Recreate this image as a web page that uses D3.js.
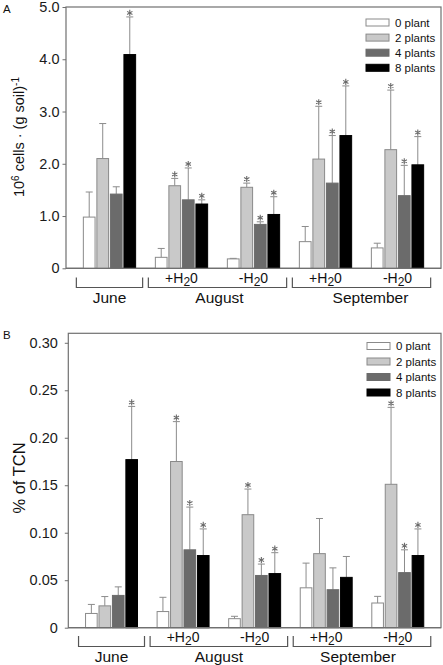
<!DOCTYPE html>
<html><head><meta charset="utf-8">
<script src="https://cdn.jsdelivr.net/npm/d3@7"></script>
<style>
html,body{margin:0;padding:0;background:#fff;}
svg{display:block;font-family:"Liberation Sans",Arial,sans-serif;}
</style></head>
<body>
<svg id="chart" width="443" height="665"></svg>
<script>
// ---------- data ----------
const groups = ["June", "Aug +H2O", "Aug -H2O", "Sep +H2O", "Sep -H2O"];
const subLabels = ["", "+H", "-H", "+H", "-H"];
const months = ["June", "August", "September"];
const monthGroups = [["June"], ["Aug +H2O", "Aug -H2O"], ["Sep +H2O", "Sep -H2O"]];
const series = ["0 plant", "2 plants", "4 plants", "8 plants"];

// Panel A: 10^6 cells per g soil
const cells0 = [0.98, 0.21, 0.18, 0.51, 0.39];
const cells2 = [2.10, 1.58, 1.55, 2.09, 2.27];
const cells4 = [1.42, 1.31, 0.84, 1.63, 1.39];
const cells8 = [4.09, 1.23, 1.03, 2.54, 1.98];
const cellsErr0 = [0.48, 0.17, 0.01, 0.29, 0.09];
const cellsErr2 = [0.67, 0.14, 0.08, 1.01, 1.14];
const cellsErr4 = [0.14, 0.61, 0.05, 0.91, 0.58];
const cellsErr8 = [0.72, 0.08, 0.34, 0.95, 0.54];
const cellsSig0 = [0, 0, 0, 0, 0];
const cellsSig2 = [0, 1, 1, 1, 1];
const cellsSig4 = [0, 1, 1, 1, 1];
const cellsSig8 = [1, 1, 1, 1, 1];
const ticksA = [0, 1, 2, 3, 4, 5];
const tickLabelsA = ["0", "1.0", "2.0", "3.0", "4.0", "5.0"];

// Panel B: % of TCN
const tcn0 = [0.015, 0.017, 0.0095, 0.042, 0.026];
const tcn2 = [0.023, 0.175, 0.119, 0.078, 0.151];
const tcn4 = [0.034, 0.082, 0.055, 0.040, 0.058];
const tcn8 = [0.177, 0.076, 0.057, 0.053, 0.076];
const tcnErr0 = [0.0095, 0.015, 0.0025, 0.026, 0.007];
const tcnErr2 = [0.0098, 0.042, 0.027, 0.037, 0.081];
const tcnErr4 = [0.009, 0.045, 0.012, 0.023, 0.024];
const tcnErr8 = [0.056, 0.028, 0.022, 0.022, 0.028];
const tcnSig0 = [0, 0, 0, 0, 0];
const tcnSig2 = [0, 1, 1, 0, 1];
const tcnSig4 = [0, 1, 1, 0, 1];
const tcnSig8 = [1, 1, 1, 0, 1];
const ticksB = [0, 0.05, 0.10, 0.15, 0.20, 0.25, 0.30];
const tickLabelsB = ["0", "0.05", "0.10", "0.15", "0.20", "0.25", "0.30"];

// ---------- styles ----------
const fills = ["#ffffff", "#c9c9c9", "#6b6b6b", "#000000"];
const strokes = ["#8a8a8a", "#8a8a8a", "#6b6b6b", "#000000"];
const frameColor = "#707070";
const errColor = "#8c8c8c";

const svg = d3.select("#chart");
const starPath = d3.symbol(d3.symbolAsterisk, 26)();

function panel(cfg) {
  const g = svg.append("g");
  const x = d3.scaleBand().domain(groups).range([cfg.left, cfg.right])
    .paddingInner(0.26).paddingOuter(0.234);
  const xs = d3.scaleBand().domain(series).range([0, x.bandwidth()]).paddingInner(0.06);
  const y = d3.scaleLinear().domain([0, cfg.ymax]).range([cfg.bottom, cfg.top]);

  // frame
  g.append("rect").attr("x", cfg.left).attr("y", cfg.top)
    .attr("width", cfg.right - cfg.left).attr("height", cfg.bottom - cfg.top)
    .attr("fill", "none").attr("stroke", frameColor).attr("stroke-width", 1.2);

  // y axis
  const ax = d3.axisLeft(y).tickValues(cfg.ticks)
    .tickFormat((d, i) => cfg.tickLabels[i]).tickSize(3.5).tickPadding(cfg.tickPad);
  const axg = g.append("g").attr("transform", `translate(${cfg.left},0)`).call(ax);
  axg.select(".domain").remove();
  axg.selectAll(".tick line").attr("stroke", frameColor);
  axg.selectAll(".tick text").attr("font-size", 14.5).attr("fill", "#1a1a1a")
    .attr("font-family", "Liberation Sans, Arial, sans-serif");

  // bars
  const rows = [];
  groups.forEach((grp, gi) => {
    series.forEach((s, si) => {
      rows.push({grp, s, si, v: cfg.vals[si][gi], e: cfg.errs[si][gi], sig: cfg.sigs[si][gi]});
    });
  });
  const bx = d => x(d.grp) + xs(d.s);
  const cx = d => bx(d) + xs.bandwidth() / 2;

  // error bars
  g.selectAll(".err").data(rows).join("line")
    .attr("x1", cx).attr("x2", cx)
    .attr("y1", d => y(d.v)).attr("y2", d => y(d.v + d.e))
    .attr("stroke", errColor).attr("stroke-width", 1);
  g.selectAll(".cap").data(rows).join("line")
    .attr("x1", d => cx(d) - 3.5).attr("x2", d => cx(d) + 3.5)
    .attr("y1", d => y(d.v + d.e)).attr("y2", d => y(d.v + d.e))
    .attr("stroke", errColor).attr("stroke-width", 1);

  g.selectAll(".bar").data(rows).join("rect")
    .attr("x", d => bx(d) + 0.5).attr("width", xs.bandwidth() - 1)
    .attr("y", d => y(d.v)).attr("height", d => y(0) - y(d.v))
    .attr("fill", d => fills[d.si]).attr("stroke", d => strokes[d.si]).attr("stroke-width", 1);

  // stars
  g.selectAll(".star").data(rows.filter(d => d.sig)).join("path")
    .attr("d", starPath)
    .attr("transform", d => `translate(${cx(d)},${y(d.v + d.e) - 4})`)
    .attr("fill", "none").attr("stroke", "#6a6a6a").attr("stroke-width", 1.1);

  // redraw bottom frame line over bars
  g.append("line").attr("x1", cfg.left).attr("x2", cfg.right)
    .attr("y1", cfg.bottom).attr("y2", cfg.bottom)
    .attr("stroke", frameColor).attr("stroke-width", 1.2);

  // sub labels (+H2O / -H2O)
  groups.forEach((grp, gi) => {
    if (!subLabels[gi]) return;
    const t = g.append("text").attr("x", x(grp) + x.bandwidth() / 2).attr("y", cfg.subY)
      .attr("text-anchor", "middle").attr("font-size", 14).attr("fill", "#111");
    t.append("tspan").text(subLabels[gi]);
    t.append("tspan").attr("dy", 3).attr("font-size", 12).text("2");
    t.append("tspan").attr("dy", -3).text("0");
  });

  // brackets and month labels
  months.forEach((m, mi) => {
    const gs = monthGroups[mi];
    const x0 = x(gs[0]) - 6.5;
    const x1 = x(gs[gs.length - 1]) + x.bandwidth() + 6.5;
    g.append("path")
      .attr("d", `M${x0},${cfg.brTop}V${cfg.brBot}H${x1}V${cfg.brTop}`)
      .attr("fill", "none").attr("stroke", "#555").attr("stroke-width", 1.2);
    g.append("text").attr("x", (x0 + x1) / 2 + cfg.monthDx[mi]).attr("y", cfg.monthY)
      .attr("text-anchor", "middle").attr("font-size", 15.5).attr("fill", "#111").text(m);
  });

  // legend
  series.forEach((s, si) => {
    const ly = cfg.legY + si * cfg.legStep;
    g.append("rect").attr("x", cfg.legX).attr("y", ly - 3.5).attr("width", 23).attr("height", 7)
      .attr("fill", fills[si]).attr("stroke", strokes[si]).attr("stroke-width", 1);
    g.append("text").attr("x", cfg.legX + 29).attr("y", ly + 4)
      .attr("font-size", 11.5).attr("fill", "#111").text(s);
  });

  // panel letter
  g.append("text").attr("x", 3).attr("y", cfg.top + 6).attr("font-size", 11.5)
    .attr("fill", "#111").text(cfg.letter);

  return g;
}

const gA = panel({
  letter: "A", left: 66, right: 441, top: 7, bottom: 268.3, ymax: 5.0,
  ticks: ticksA, tickLabels: tickLabelsA, tickPad: 3,
  vals: [cells0, cells2, cells4, cells8], errs: [cellsErr0, cellsErr2, cellsErr4, cellsErr8],
  sigs: [cellsSig0, cellsSig2, cellsSig4, cellsSig8],
  subY: 282.5, brTop: 277.5, brBot: 287.5, monthY: 303, monthDx: [0, 2, 9],
  legX: 366, legY: 22.5, legStep: 15.1
});
const gB = panel({
  letter: "B", left: 68.3, right: 441, top: 333.3, bottom: 627.7, ymax: 0.31,
  ticks: ticksB, tickLabels: tickLabelsB, tickPad: 7,
  vals: [tcn0, tcn2, tcn4, tcn8], errs: [tcnErr0, tcnErr2, tcnErr4, tcnErr8],
  sigs: [tcnSig0, tcnSig2, tcnSig4, tcnSig8],
  subY: 641.5, brTop: 636, brBot: 646.5, monthY: 661.5, monthDx: [0, 0, -4],
  legX: 367, legY: 346, legStep: 15.5
});

// y axis titles
const tA = svg.append("text").attr("transform", "translate(24,137) rotate(-90)")
  .attr("text-anchor", "middle").attr("font-size", 14.5).attr("fill", "#111");
tA.append("tspan").text("10");
tA.append("tspan").attr("dy", -5.5).attr("font-size", 10).text("6");
tA.append("tspan").attr("dy", 5.5).text(" cells · (g soil)");
tA.append("tspan").attr("dy", -5.5).attr("font-size", 10).text("-1");

svg.append("text").attr("transform", "translate(25,478) rotate(-90)")
  .attr("text-anchor", "middle").attr("font-size", 16.5).attr("fill", "#111").text("% of TCN");
</script>
</body></html>
